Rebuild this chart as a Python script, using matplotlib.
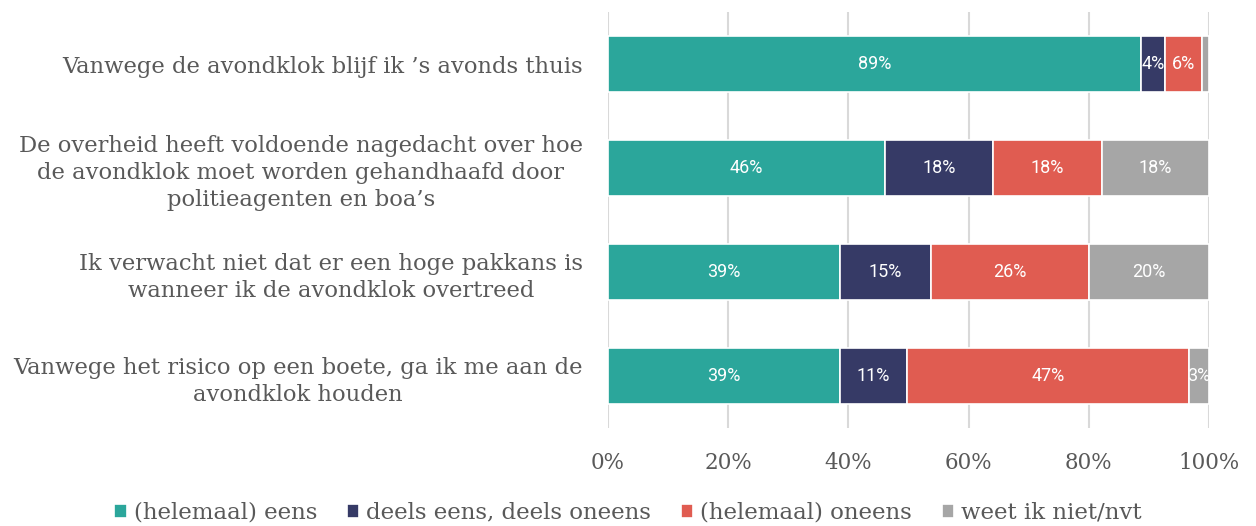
import numpy as np
import matplotlib.pyplot as plt

# survey statements and answer shares (%)
stellingen = [
    "Vanwege de avondklok blijf ik \u2019s avonds thuis",
    "De overheid heeft voldoende nagedacht over hoe\nde avondklok moet worden gehandhaafd door\npolitieagenten en boa\u2019s",
    "Ik verwacht niet dat er een hoge pakkans is\nwanneer ik de avondklok overtreed",
    "Vanwege het risico op een boete, ga ik me aan de\navondklok houden",
]
antwoorden = ["(helemaal) eens", "deels eens, deels oneens", "(helemaal) oneens", "weet ik niet/nvt"]
eens = [88.7, 46.1, 38.6, 38.6]
deels = [4.0, 18.0, 15.1, 11.2]
oneens = [6.1, 18.1, 26.3, 46.9]
weet_niet = [1.2, 17.8, 20.0, 3.3]
kleuren = ["#2ba69b", "#363a66", "#e05c51", "#a6a6a6"]

reeksen = [eens, deels, oneens, weet_niet]
tekstkleur = "#595959"

fig = plt.figure(figsize=(12.56, 5.26), dpi=100)
ax = fig.add_axes([0.484, 0.186, 0.4786, 0.791])

y = np.arange(len(stellingen))
links = np.zeros(len(stellingen))
for naam, waarden, kleur in zip(antwoorden, reeksen, kleuren):
    waarden = np.array(waarden)
    bars = ax.barh(y, waarden, left=links, height=0.54, color=kleur,
                   edgecolor="white", linewidth=1.2, label=naam, zorder=3)
    for b, v in zip(bars, waarden):
        if v >= 2:
            ax.text(b.get_x() + b.get_width() / 2, b.get_y() + b.get_height() / 2,
                    f"{v:.0f}%", ha="center", va="center", color="white",
                    fontsize=13, family="Roboto", zorder=4)
    links += waarden

ax.set_xlim(0, 100)
ax.set_ylim(3.5, -0.5)
ax.set_yticks(y)
ax.set_yticklabels(stellingen, family="DejaVu Serif", fontsize=16.3,
                   color=tekstkleur, multialignment="center", linespacing=1.3)
ax.set_xticks(np.arange(0, 101, 20))
ax.set_xticklabels([f"{t}%" for t in range(0, 101, 20)], family="DejaVu Serif",
                   fontsize=15.5, color=tekstkleur)
ax.tick_params(axis="y", length=0, pad=18)
ax.tick_params(axis="x", length=0, pad=17)
ax.grid(axis="x", color="#d9d9d9", linewidth=1.5, zorder=0)
for s in ax.spines.values():
    s.set_visible(False)

leg = fig.legend(loc="lower center", bbox_to_anchor=(0.5, -0.035), ncol=4,
                 frameon=False, handlelength=0.55, handleheight=0.55,
                 handletextpad=0.3, columnspacing=1.3,
                 prop={"family": "DejaVu Serif", "size": 16.5})
for t in leg.get_texts():
    t.set_color(tekstkleur)

fig.savefig("out.png", dpi=100)
